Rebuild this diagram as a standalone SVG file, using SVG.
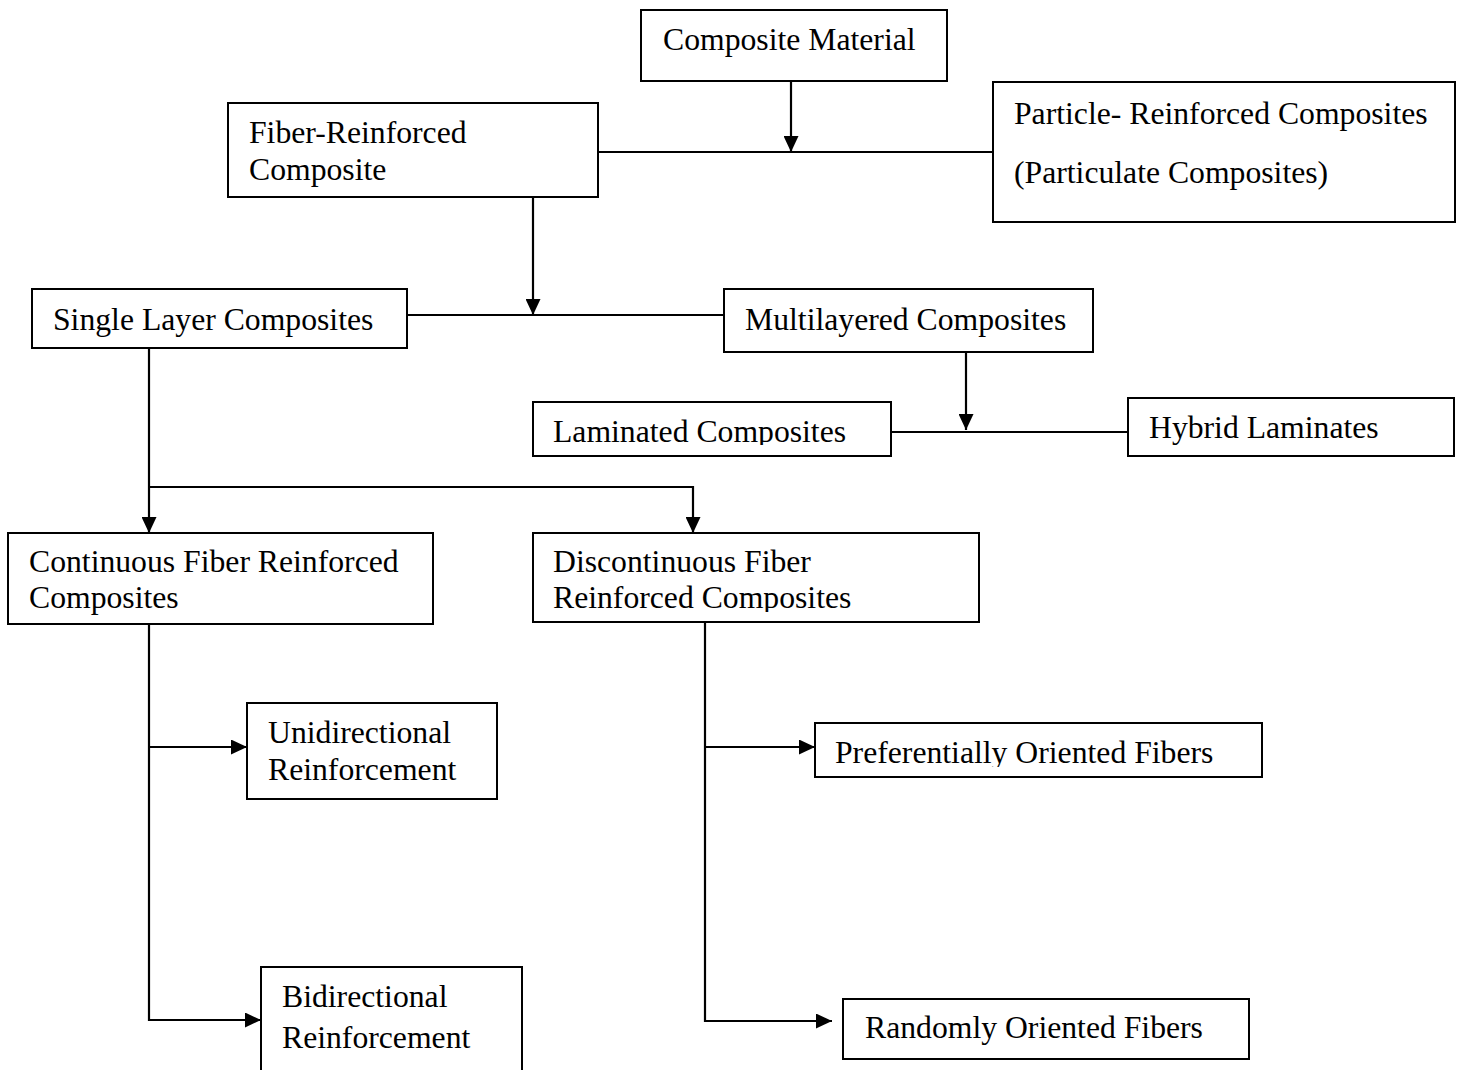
<svg xmlns="http://www.w3.org/2000/svg" width="1457" height="1070" viewBox="0 0 1457 1070">
<style>
.box{fill:#fff;stroke:#000;stroke-width:2}
.t{font-family:"Liberation Serif","Times New Roman",serif;font-size:31.7px;fill:#000}
.c{fill:none;stroke:#000;stroke-width:2.2}
</style>
<defs>
<marker id="ah" markerWidth="16" markerHeight="15" refX="16" refY="7.5" orient="auto" markerUnits="userSpaceOnUse">
<path d="M0,0 L16,7.5 L0,15 Z" fill="#000"/>
</marker>
<clipPath id="clipLam"><rect x="533" y="402" width="358" height="43"/></clipPath>
<clipPath id="clipDis"><rect x="533" y="533" width="446" height="79"/></clipPath>
<clipPath id="clipPref"><rect x="815" y="723" width="447" height="44"/></clipPath>
</defs>
<rect width="1457" height="1070" fill="#fff"/>
<g id="connectors">
<line class="c" x1="791" y1="81" x2="791" y2="152" marker-end="url(#ah)"/>
<line class="c" x1="595" y1="152" x2="994" y2="152"/>
<line class="c" x1="533" y1="197" x2="533" y2="315" marker-end="url(#ah)"/>
<line class="c" x1="407" y1="315" x2="724" y2="315"/>
<line class="c" x1="966" y1="352" x2="966" y2="430" marker-end="url(#ah)"/>
<line class="c" x1="891" y1="432" x2="1128" y2="432"/>
<line class="c" x1="149" y1="348" x2="149" y2="533" marker-end="url(#ah)"/>
<polyline class="c" points="149,487 693,487 693,533" marker-end="url(#ah)"/>
<polyline class="c" points="149,624 149,1020 261,1020" marker-end="url(#ah)"/>
<line class="c" x1="149" y1="747" x2="247" y2="747" marker-end="url(#ah)"/>
<polyline class="c" points="705,622 705,1021 832,1021" marker-end="url(#ah)"/>
<line class="c" x1="705" y1="747" x2="815" y2="747" marker-end="url(#ah)"/>
</g>
<g id="composite-material">
<rect class="box" x="641" y="10" width="306" height="71"/>
<text class="t" x="663" y="50">Composite Material</text>
</g>
<g id="fiber-reinforced">
<rect class="box" x="228" y="103" width="370" height="94"/>
<text class="t" x="249" y="143">Fiber-Reinforced</text>
<text class="t" x="249" y="180">Composite</text>
</g>
<g id="particle-reinforced">
<rect class="box" x="993" y="82" width="462" height="140"/>
<text class="t" x="1014" y="124">Particle- Reinforced Composites</text>
<text class="t" x="1014" y="183">(Particulate Composites)</text>
</g>
<g id="single-layer">
<rect class="box" x="32" y="289" width="375" height="59"/>
<text class="t" x="53" y="330">Single Layer Composites</text>
</g>
<g id="multilayered">
<rect class="box" x="724" y="289" width="369" height="63"/>
<text class="t" x="745" y="330">Multilayered Composites</text>
</g>
<g id="laminated">
<rect class="box" x="533" y="402" width="358" height="54"/>
<text class="t" x="553" y="442" clip-path="url(#clipLam)">Laminated Composites</text>
</g>
<g id="hybrid">
<rect class="box" x="1128" y="398" width="326" height="58"/>
<text class="t" x="1149" y="438">Hybrid Laminates</text>
</g>
<g id="continuous">
<rect class="box" x="8" y="533" width="425" height="91"/>
<text class="t" x="29" y="572">Continuous Fiber Reinforced</text>
<text class="t" x="29" y="608">Composites</text>
</g>
<g id="discontinuous">
<rect class="box" x="533" y="533" width="446" height="89"/>
<g clip-path="url(#clipDis)">
<text class="t" x="553" y="572">Discontinuous Fiber</text>
<text class="t" x="553" y="608">Reinforced Composites</text>
</g>
</g>
<g id="unidirectional">
<rect class="box" x="247" y="703" width="250" height="96"/>
<text class="t" x="268" y="743">Unidirectional</text>
<text class="t" x="268" y="780">Reinforcement</text>
</g>
<g id="bidirectional">
<rect class="box" x="261" y="967" width="261" height="110"/>
<text class="t" x="282" y="1007">Bidirectional</text>
<text class="t" x="282" y="1048">Reinforcement</text>
</g>
<g id="preferentially">
<rect class="box" x="815" y="723" width="447" height="54"/>
<text class="t" x="835" y="763" clip-path="url(#clipPref)">Preferentially Oriented Fibers</text>
</g>
<g id="randomly">
<rect class="box" x="843" y="999" width="406" height="60"/>
<text class="t" x="865" y="1038">Randomly Oriented Fibers</text>
</g>
</svg>
